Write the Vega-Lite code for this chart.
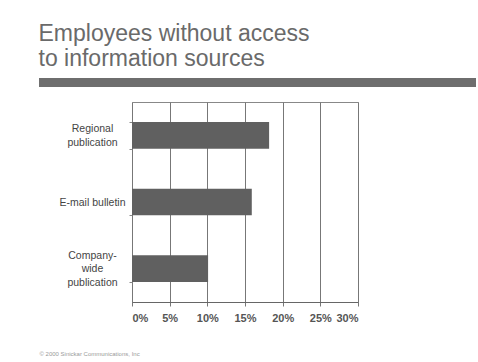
{
  "$schema": "https://vega.github.io/schema/vega-lite/v6.json",
  "background": "white",
  "padding": {"left": 38, "top": 23, "right": 0, "bottom": 0},
  "title": {
    "text": ["Employees without access", "to information sources"],
    "anchor": "start",
    "font": "Liberation Sans",
    "fontSize": 23,
    "fontWeight": "normal",
    "lineHeight": 25,
    "color": "#6a6a6a",
    "offset": 7
  },
  "spacing": 9,
  "vconcat": [
    {
      "width": 344,
      "height": 9,
      "view": {"stroke": null},
      "data": {"values": [{"start": -0.2703, "end": 1}]},
      "mark": {"type": "rect", "color": "#6e6e6e", "clip": false},
      "encoding": {
        "x": {"field": "start", "type": "quantitative", "scale": {"domain": [0, 1]}, "axis": null},
        "x2": {"field": "end"}
      }
    },
    {
      "width": 226,
      "height": 200,
      "view": {"stroke": "#888888", "strokeWidth": 1},
      "data": {
        "values": [
          {"source": "Regional|publication", "pct": 18.2},
          {"source": "E-mail bulletin", "pct": 15.9},
          {"source": "Company-|wide|publication", "pct": 10.1}
        ]
      },
      "mark": {"type": "bar", "color": "#606060"},
      "encoding": {
        "y": {
          "field": "source",
          "type": "nominal",
          "sort": null,
          "scale": {"paddingInner": 0.6, "paddingOuter": 0.3},
          "axis": {
            "title": null,
            "labelExpr": "isValid(datum.value) ? split(datum.value, '|') : ''",
            "labelAlign": "center",
            "labelBaseline": "middle",
            "labelFont": "Liberation Sans",
            "labelFontSize": 10.5,
            "labelColor": "#444444",
            "labelLineHeight": 13.5,
            "labelPadding": 37,
            "labelOffset": {
              "condition": [
                {"test": "datum.value === 'Company-|wide|publication'", "value": -13.5},
                {"test": "datum.value === 'Regional|publication'", "value": -6.75}
              ],
              "value": 0
            },
            "tickBand": "extent",
            "tickSize": 3,
            "tickColor": "#888888",
            "domain": false,
            "minExtent": 93
          }
        },
        "x": {
          "field": "pct",
          "type": "quantitative",
          "scale": {"domain": [0, 30]},
          "axis": {
            "values": [0, 5, 10, 15, 20, 25, 30],
            "labelExpr": "datum.value + '%'",
            "labelFont": "Liberation Sans",
            "labelFontSize": 11,
            "labelFontWeight": "bold",
            "labelColor": "#555555",
            "labelPadding": 6,
            "tickSize": 4,
            "tickColor": "#777777",
            "domainColor": "#666666",
            "gridColor": "#777777",
            "gridOpacity": 1,
            "grid": true,
            "title": "\u00a9 2000 Sinickar Communications, Inc",
            "titleFont": "Liberation Sans",
            "titleFontSize": 6,
            "titleFontWeight": "normal",
            "titleColor": "#999999",
            "titleAlign": "left",
            "titleAnchor": "start",
            "titleBaseline": "middle",
            "titleX": -93,
            "titleY": 51
          }
        }
      }
    }
  ]
}
